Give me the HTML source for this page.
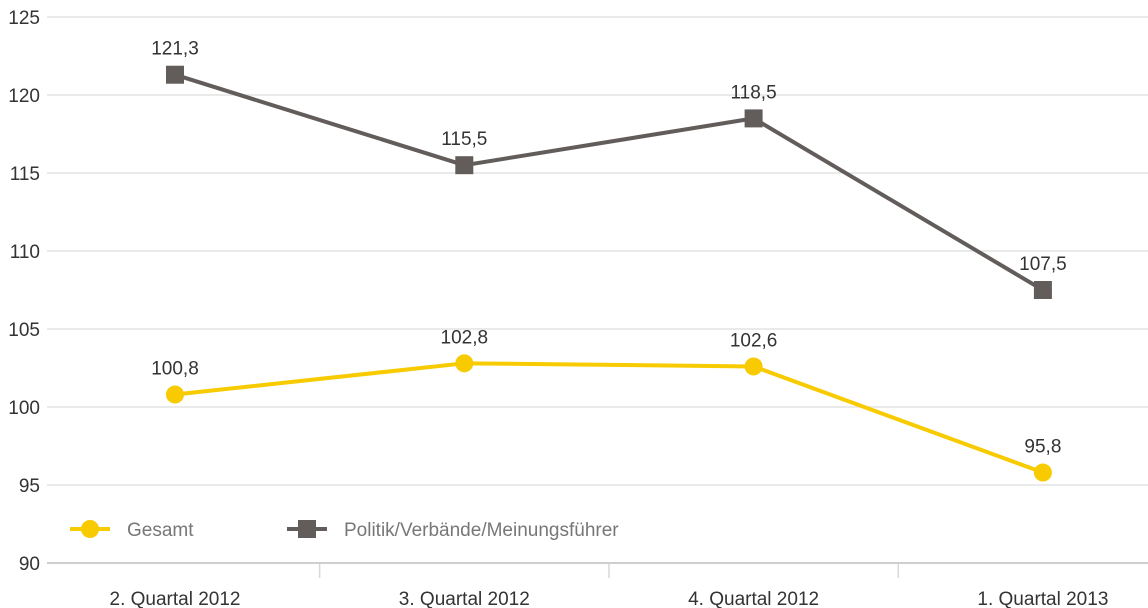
<!DOCTYPE html>
<html><head><meta charset="utf-8"><style>
body{margin:0;background:#fff}
svg{display:block;font-family:"Liberation Sans",sans-serif}
</style></head><body>
<svg id="c" width="1148" height="608"></svg>
<script>
const categories=["2. Quartal 2012","3. Quartal 2012","4. Quartal 2012","1. Quartal 2013"];
const gesamt=[100.8,102.8,102.6,95.8];
const politik=[121.3,115.5,118.5,107.5];
const gesamtLabels=["100,8","102,8","102,6","95,8"];
const politikLabels=["121,3","115,5","118,5","107,5"];
const yTicks=[90,95,100,105,110,115,120,125];
const NS="http://www.w3.org/2000/svg";
const svg=document.getElementById('c');
function y(v){return 563-(v-90)*(546/35);}
function x(i){return 175+i*289.3;}
function mk(t,a,txt){const e=document.createElementNS(NS,t);for(const k in a)e.setAttribute(k,a[k]);if(txt!=null)e.textContent=txt;svg.appendChild(e);return e;}
yTicks.forEach(v=>{
 const l=mk('line',{x1:47,x2:1148,y1:y(v),y2:y(v),stroke:v===90?'#cfcfcf':'#e4e4e4','stroke-width':v===90?2:1.5});
 
 
 const t=mk('text',{x:40,y:y(v)+7,'text-anchor':'end','font-size':19,fill:'#333'},v);
 
 
});
for(let i=1;i<categories.length;i++){
 const s=(x(i-1)+x(i))/2;
 const l=mk('line',{x1:s,x2:s,y1:564,y2:578,stroke:'#d8d8d8','stroke-width':1.5});
 
 
}
categories.forEach((c,i)=>{
 const t=mk('text',{x:x(i),y:605,'text-anchor':'middle','font-size':19,fill:'#333'},c);
 
 
});
function series(vals,labels,color,square,name){
 const p=mk('polyline',{points:vals.map((v,i)=>x(i)+','+y(v)).join(' '),fill:'none',stroke:color,'stroke-width':4});
 
 
 vals.forEach((v,i)=>{
  let m;
  if(square)m=mk('rect',{x:x(i)-9,y:y(v)-9,width:18,height:18,fill:color});
  else m=mk('circle',{cx:x(i),cy:y(v),r:9,fill:color});
  
  
  const t=mk('text',{x:x(i),y:y(v)-20,'text-anchor':'middle','font-size':19,fill:'#333'},labels[i]);
  
  
 });
}
series(politik,politikLabels,'#625d5a',true,'politik');
series(gesamt,gesamtLabels,'#f7cb00',false,'gesamt');
// legend
let l1=mk('line',{x1:70,x2:110,y1:529,y2:529,stroke:'#f7cb00','stroke-width':4});


let c1=mk('circle',{cx:90,cy:529,r:9,fill:'#f7cb00'});


let t1=mk('text',{x:127,y:536,'font-size':19,fill:'#777'},'Gesamt');


let l2=mk('line',{x1:287,x2:327,y1:529,y2:529,stroke:'#625d5a','stroke-width':4});


let r2=mk('rect',{x:298,y:520,width:18,height:18,fill:'#625d5a'});


let t2=mk('text',{x:344,y:536,'font-size':19,fill:'#777'},'Politik/Verbände/Meinungsführer');


</script>
</body></html>
